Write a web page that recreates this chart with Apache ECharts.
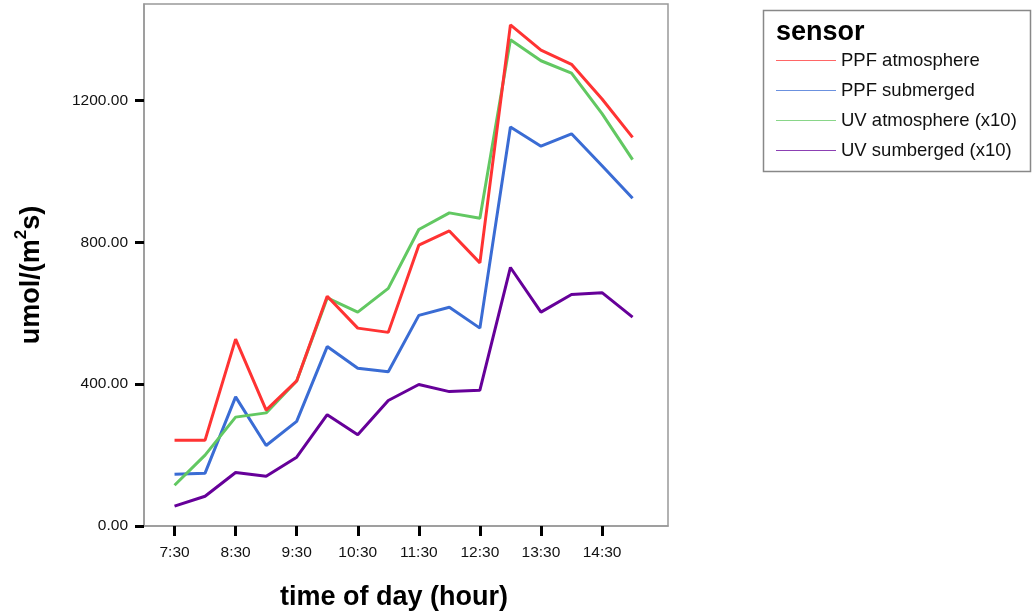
<!DOCTYPE html>
<html>
<head>
<meta charset="utf-8">
<script src="https://cdn.jsdelivr.net/npm/echarts@6/dist/echarts.min.js"></script>
<style>
  html, body { margin: 0; padding: 0; background: #fff; }
  #chart { width: 1036px; height: 613px; }
</style>
</head>
<body>
<div id="chart"></div>
<script>
// Half-hourly readings, 7:30 to 15:00
const times = ['7:30','8:00','8:30','9:00','9:30','10:00','10:30','11:00',
               '11:30','12:00','12:30','13:00','13:30','14:00','14:30','15:00'];
const tickLabels = ['7:30','8:30','9:30','10:30','11:30','12:30','13:30','14:30'];

const ppfAtmosphere = [242, 242, 527, 327, 409, 648, 558, 546, 792, 832, 742, 1413, 1342, 1302, 1204, 1096];
const ppfSubmerged  = [146, 149, 364, 227, 295, 506, 445, 435, 594, 617, 558, 1125, 1071, 1106, 1016, 924];
const uvAtmosphere  = [115, 200, 307, 319, 409, 643, 603, 670, 836, 883, 868, 1371, 1312, 1277, 1163, 1033];
const uvSubmerged   = [56, 84, 151, 140, 194, 314, 257, 354, 399, 379, 383, 729, 603, 653, 658, 589];

const seriesNames  = ['PPF atmosphere', 'PPF submerged', 'UV atmosphere (x10)', 'UV sumberged (x10)'];
const seriesColors = ['#ff3333', '#3a6cd4', '#62c862', '#660099'];

const toHours = t => { const [h, m] = t.split(':').map(Number); return h + m / 60; };
const pairs = vals => vals.map((v, i) => [toHours(times[i]), v]);
const tickHours = tickLabels.map(toHours);

const FONT = '"Liberation Sans", Arial, sans-serif';

const chart = echarts.init(document.getElementById('chart'), null, { renderer: 'canvas' });

chart.setOption({
  backgroundColor: '#fff',
  animation: false,
  textStyle: { fontFamily: FONT },
  grid: {
    left: 144, right: 368, top: 4, bottom: 87,
    outerBoundsMode: 'none',
    containLabel: false,
    show: true, borderColor: '#999', borderWidth: 1.5, backgroundColor: '#fff'
  },
  xAxis: {
    type: 'value',
    min: 7.0, max: 15.58,
    name: 'time of day (hour)',
    nameLocation: 'middle',
    nameGap: 58,
    nameTextStyle: {
      fontFamily: FONT, fontSize: 27, fontWeight: 'bold', color: '#000',
      padding: [0, 24, 0, 0]
    },
    axisLine: { show: true, lineStyle: { color: '#999', width: 1.5 } },
    axisTick: {
      show: true, length: 10, inside: false,
      lineStyle: { color: '#000', width: 3 },
      customValues: tickHours
    },
    axisLabel: {
      customValues: tickHours,
      margin: 19, fontSize: 15.5, color: '#111', fontFamily: FONT,
      formatter: v => tickLabels[tickHours.findIndex(h => Math.abs(h - v) < 1e-6)] || ''
    },
    splitLine: { show: false }
  },
  yAxis: {
    type: 'value',
    min: 0, max: 1472, interval: 400,
    name: '{a|umol/(m}{s|2}{a|s)}',
    nameLocation: 'middle',
    nameGap: 99,
    nameRotate: 90,
    nameTextStyle: {
      fontFamily: FONT, fontSize: 27, fontWeight: 'bold', color: '#000',
      padding: [0, 20, 0, 0],
      rich: {
        a: { fontFamily: FONT, fontSize: 27, fontWeight: 'bold', color: '#000', lineHeight: 32, verticalAlign: 'bottom' },
        s: { fontFamily: FONT, fontSize: 17, fontWeight: 'bold', color: '#000', lineHeight: 32, verticalAlign: 'top', padding: [0, 0, 12, 0] }
      }
    },
    axisLine: { show: true, lineStyle: { color: '#999', width: 1.5 } },
    axisTick: { show: true, length: 9, lineStyle: { color: '#000', width: 3 } },
    axisLabel: {
      margin: 16, fontSize: 15.5, color: '#111', fontFamily: FONT,
      showMaxLabel: false,
      formatter: v => v.toFixed(2)
    },
    splitLine: { show: false }
  },
  legend: {
    orient: 'vertical',
    left: 771, top: 46,
    itemWidth: 60, itemHeight: 14, itemGap: 11,
    icon: 'path://M0,6.5 L60,6.5 L60,7.5 L0,7.5 Z',
    textStyle: { fontFamily: FONT, fontSize: 18.5, color: '#111' },
    data: seriesNames.map((n, i) => ({ name: n, itemStyle: { color: seriesColors[i], opacity: 0.75 } }))
  },
  graphic: [
    {
      type: 'rect',
      shape: { x: 763.5, y: 10.5, width: 267, height: 161 },
      style: { fill: 'none', stroke: '#888', lineWidth: 1.5 },
      z: 0
    },
    {
      type: 'text',
      left: 776, top: 19,
      style: { text: 'sensor', fontFamily: FONT, fontSize: 27, fontWeight: 'bold', fill: '#000' }
    }
  ],
  series: [ppfAtmosphere, ppfSubmerged, uvAtmosphere, uvSubmerged].map((vals, i) => ({
    name: seriesNames[i],
    type: 'line',
    data: pairs(vals),
    showSymbol: false,
    symbol: 'none',
    color: seriesColors[i],
    lineStyle: { width: 3, color: seriesColors[i] },
    z: i === 0 ? 3 : 2
  }))
});
</script>
</body>
</html>
